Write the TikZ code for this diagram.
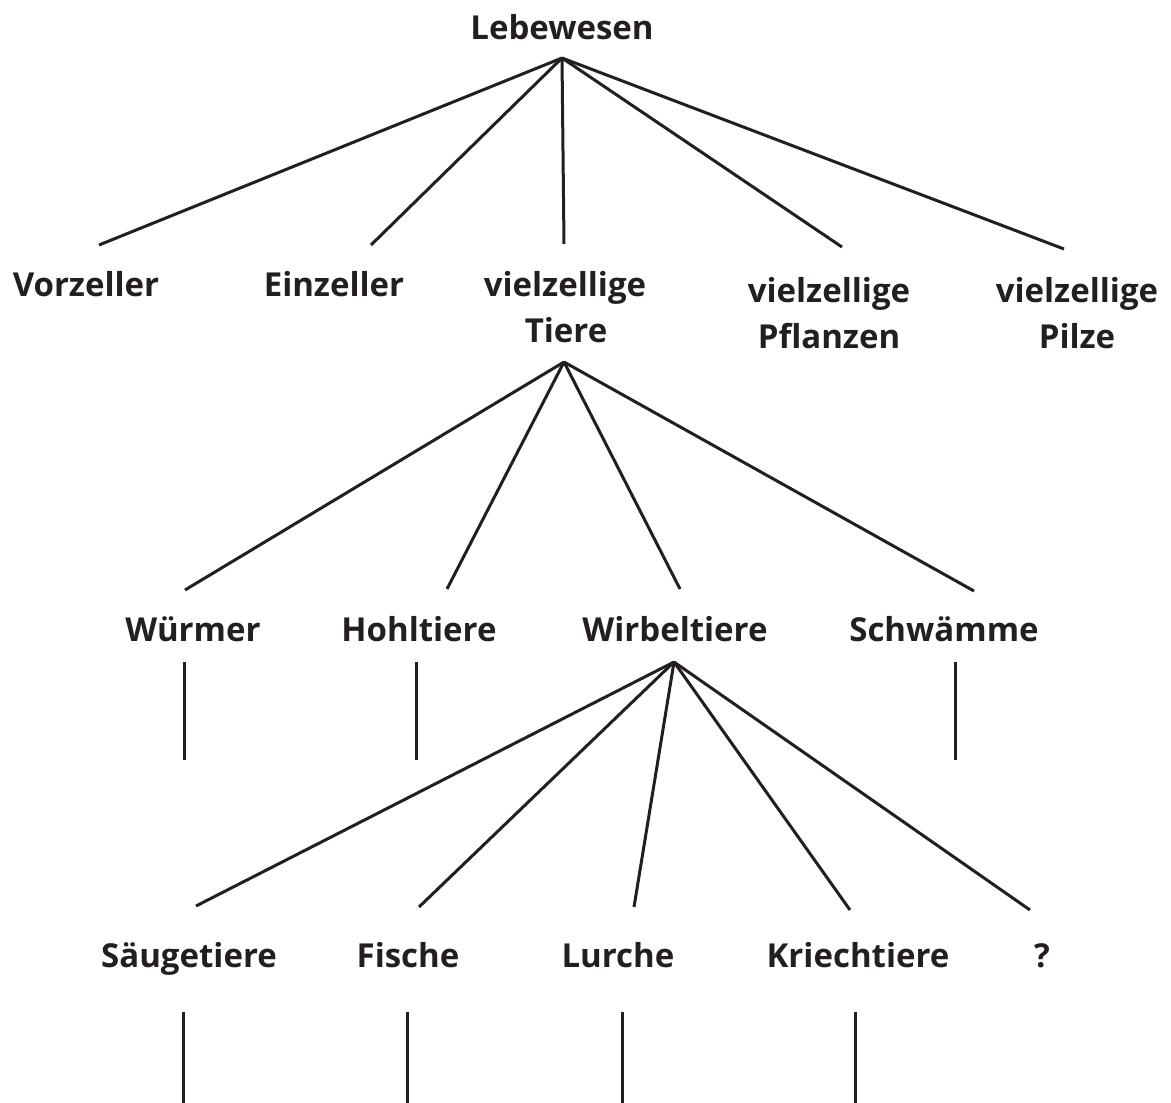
\documentclass[tikz,border=0pt]{standalone}
\usepackage{fontspec}
\setmainfont{Open Sans}
\definecolor{ink}{HTML}{231F20}
\begin{document}
\begin{tikzpicture}[x=1pt,y=-1pt,
  lbl/.style={font=\fontsize{33}{40}\selectfont\bfseries, anchor=base, inner sep=0pt, text=ink},
  edge/.style={line width=3pt, draw=ink}]
\useasboundingbox (0,0) rectangle (1171,1103);
% labels
\node[lbl] (leb) at (562,39) {Lebewesen};
\node[lbl] (vor) at (86,296) {Vorzeller};
\node[lbl] (ein) at (334,296) {Einzeller};
\node[lbl] (tiere1) at (565,296) {vielzellige};
\node[lbl] (tiere) at (566,342) {Tiere};
\node[lbl] (pfl1) at (829,302) {vielzellige};
\node[lbl] (pfl) at (829,348) {Pflanzen};
\node[lbl] (pil1) at (1077,302) {vielzellige};
\node[lbl] (pil) at (1077,348) {Pilze};
\node[lbl] (wuer) at (193,641) {Würmer};
\node[lbl] (hohl) at (419,641) {Hohltiere};
\node[lbl] (wirb) at (675,641) {Wirbeltiere};
\node[lbl] (schw) at (944,641) {Schwämme};
\node[lbl] (saeu) at (189,967) {Säugetiere};
\node[lbl] (fisch) at (408,967) {Fische};
\node[lbl] (lurch) at (618,967) {Lurche};
\node[lbl] (kriech) at (858,967) {Kriechtiere};
\node[lbl] (frage) at (1042,967) {?};
% connector points
\coordinate (leb-a) at (562,58);
\coordinate (vor-t) at (99,245);
\coordinate (ein-t) at (371,245);
\coordinate (tiere-t) at (564,244);
\coordinate (pfl-t) at (842,247);
\coordinate (pil-t) at (1064,249);
\coordinate (tiere-a) at (564,362);
\coordinate (wuer-t) at (185,590);
\coordinate (hohl-t) at (447,589);
\coordinate (wirb-t) at (680,589);
\coordinate (schw-t) at (974,591);
\coordinate (wirb-a) at (674,662);
\coordinate (saeu-t) at (196,906);
\coordinate (fisch-t) at (419,907);
\coordinate (lurch-t) at (634,907);
\coordinate (kriech-t) at (850,910);
\coordinate (frage-t) at (1030,910);
% hanging stubs
\coordinate (wuer-s1) at (184,662); \coordinate (wuer-s2) at (184,760);
\coordinate (hohl-s1) at (416,662); \coordinate (hohl-s2) at (416,760);
\coordinate (schw-s1) at (955,662); \coordinate (schw-s2) at (955,760);
\coordinate (saeu-s1) at (183,1012); \coordinate (saeu-s2) at (183,1103);
\coordinate (fisch-s1) at (407,1012); \coordinate (fisch-s2) at (407,1103);
\coordinate (lurch-s1) at (622,1012); \coordinate (lurch-s2) at (622,1103);
\coordinate (kriech-s1) at (855,1012); \coordinate (kriech-s2) at (855,1103);
% edges
\foreach \t in {vor,ein,tiere,pfl,pil} \draw[edge] (leb-a) -- (\t-t);
\foreach \t in {wuer,hohl,wirb,schw} \draw[edge] (tiere-a) -- (\t-t);
\foreach \t in {saeu,fisch,lurch,kriech,frage} \draw[edge] (wirb-a) -- (\t-t);
\foreach \t in {wuer,hohl,schw,saeu,fisch,lurch,kriech} \draw[edge] (\t-s1) -- (\t-s2);
\end{tikzpicture}
\end{document}
